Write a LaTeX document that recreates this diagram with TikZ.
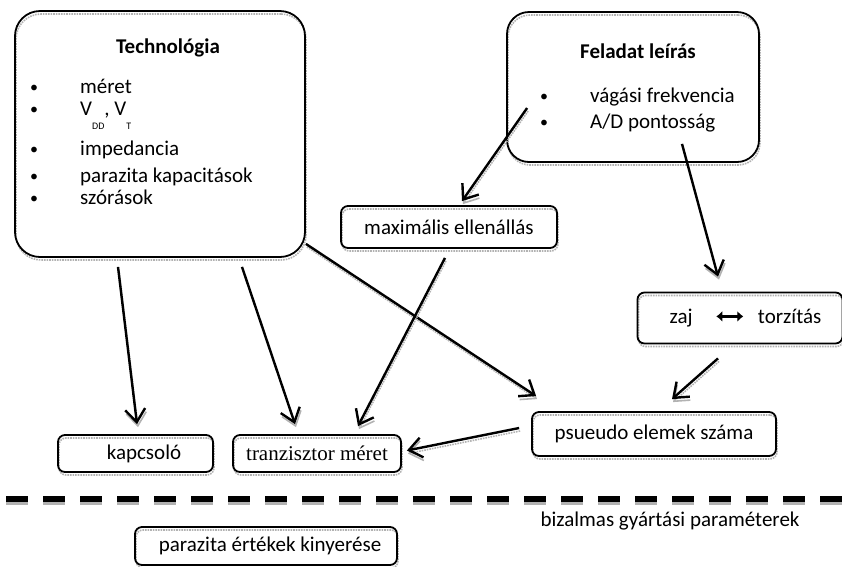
\documentclass[tikz,border=0pt]{standalone}
\usepackage{fontspec}
\setmainfont{Carlito}
\newfontfamily\timesfont{Liberation Serif}
\usetikzlibrary{arrows.meta}

\newcommand{\bul}{\makebox[50pt][l]{\raisebox{1pt}{\fontsize{16}{16}\selectfont\textbullet}}}
\newcommand{\lowsub}[1]{\raisebox{-14pt}{\fontsize{10}{10}\selectfont #1}}

\begin{document}
\begin{tikzpicture}[
  x=1pt, y=-1pt,
  font=\fontsize{21}{25}\selectfont,
  ghost/.style={preaction={draw=black!30, densely dotted, line width=1.6pt,
                transform canvas={shift={(1pt,-3pt)}}}},
  box/.style={draw, ghost, line width=1.8pt, rounded corners=7pt, inner sep=0pt, align=center},
  bigbox/.style={box, rounded corners=25pt},
  title/.style={font=\fontsize{21}{25}\selectfont\bfseries, anchor=base, inner sep=0pt},
  item/.style={anchor=base west, inner sep=0pt},
  times/.style={font=\fontsize{21}{25}\selectfont\timesfont},
  arrow/.style={ghost, line width=2.4pt, -{Straight Barb[length=13pt,width=20pt]}},
]
  \useasboundingbox (0,0) rectangle (842,566);

  % big boxes
  \node[bigbox, minimum width=290pt, minimum height=246pt] (tech) at (160,134) {};
  \node[bigbox, rounded corners=22pt, minimum width=252pt, minimum height=150pt] (task) at (633,87) {};

  \node[title] (techhead) at (168,53) {Technológia};
  \node[item] (t1) at (30,93) {\bul méret};
  \node[item] (t2) at (30,115) {\bul V\lowsub{DD}, V\lowsub{T}};
  \node[item] (t3) at (30,155) {\bul impedancia};
  \node[item] (t4) at (30,182) {\bul parazita kapacitások};
  \node[item] (t5) at (30,204) {\bul szórások};

  \node[title] (taskhead) at (638,58) {Feladat leírás};
  \node[item] (f1) at (540,102) {\bul vágási frekvencia};
  \node[item] (f2) at (540,128) {\bul A/D pontosság};

  % small boxes
  \node[box, minimum width=216pt, minimum height=42pt] (maxres) at (449,227) {maximális ellenállás};
  \node[box, minimum width=205pt, minimum height=51pt] (noise) at (740,318)
    {\hspace{11pt}zaj\hspace{22pt}\tikz[baseline=-0.7ex]\draw[{Latex[length=6pt,width=11pt]}-{Latex[length=6pt,width=11pt]},
      line width=3.2pt] (0pt,0pt) -- (27pt,0pt);\hspace{13pt}torzítás};
  \node[box, minimum width=155pt, minimum height=37pt] (switch) at (135.5,453.5) {\hspace{17pt}kapcsoló};
  \node[box, times, minimum width=168pt, minimum height=37pt] (trsize) at (317,453.5) {tranzisztor méret};
  \node[box, minimum width=244pt, minimum height=44pt] (pseudo) at (654,434) {psueudo elemek száma};

  % arrows
  \draw[arrow] ([xshift=-42pt,yshift=-9pt]tech.south) -- ([xshift=1.5pt,yshift=10pt]switch.north);
  \draw[arrow] ([xshift=82pt,yshift=-9pt]tech.south) -- ([xshift=-22pt,yshift=10pt]trsize.north);
  \draw[arrow] ([yshift=14pt]tech.south east) -- ([xshift=5pt,yshift=15pt]pseudo.north west);
  \draw[arrow] ([xshift=-4pt,yshift=-9pt]maxres.south) -- ([xshift=41pt,yshift=8pt]trsize.north);
  \draw[arrow] ([xshift=21pt,yshift=-21pt]task.west) -- ([xshift=13pt,yshift=4pt]maxres.north);
  \draw[arrow] ([xshift=49pt,yshift=19pt]task.south) -- ([xshift=-22pt,yshift=15pt]noise.north);
  \draw[arrow] ([xshift=-22pt,yshift=-14pt]noise.south) -- ([xshift=18pt,yshift=12pt]pseudo.north);
  \draw[arrow] ([xshift=-12pt,yshift=6pt]pseudo.west) -- ([xshift=5pt,yshift=3pt]trsize.east);

  % confidential line
  \draw[line width=6pt, dash pattern=on 22pt off 15pt,
        preaction={draw=black!30, line width=4pt, dash pattern=on 22pt off 15pt,
                   transform canvas={shift={(0pt,-4pt)}}}] (6,499) -- (842,499);
  \node[anchor=base, inner sep=0pt] (secret) at (670,526) {bizalmas gyártási paraméterek};
  \node[box, minimum width=262pt, minimum height=38pt] (extract) at (266,546) {\hspace{8pt}parazita értékek kinyerése};
\end{tikzpicture}
\end{document}
